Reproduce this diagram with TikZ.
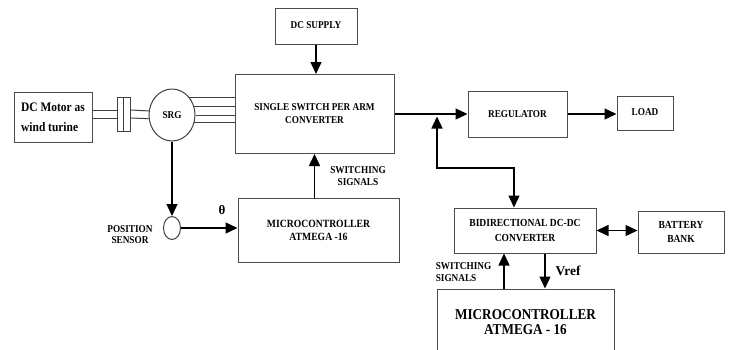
\documentclass[tikz,border=0pt]{standalone}
\usepackage{fontspec}
\setmainfont{Liberation Serif}
\newfontfamily\cond[FakeStretch=0.88]{Liberation Serif}
\usetikzlibrary{arrows.meta,shapes.geometric}
\begin{document}
\begin{tikzpicture}[x=1pt,y=-1pt,
  box/.style={draw=black!70,line width=1pt,rectangle,inner sep=0pt,align=center,
    font=\cond\bfseries\fontsize{10.5}{13}\selectfont},
  lbl/.style={inner sep=0pt,align=center,font=\cond\bfseries\fontsize{10.5}{12}\selectfont},
  tip/.tip={Triangle[length=12pt,width=11pt]},
  arr/.style={line width=1.4pt,-tip},
  darr/.style={line width=1.4pt,tip-tip},
  ln/.style={line width=1pt,draw=black!75}]
\useasboundingbox (0,0) rectangle (731,349);
% nodes
\node[box,minimum width=78,minimum height=50,font=\cond\bfseries\fontsize{13}{20}\selectfont,align=left] (motor) at (53,117) {DC Motor as\\wind turine};
\node[draw=black!75,line width=1pt,minimum width=13,minimum height=34,inner sep=0pt] (coup) at (123.5,114.5) {};
\node[draw=black!75,line width=1pt,ellipse,minimum width=46,minimum height=52,inner sep=0pt,
  font=\cond\bfseries\fontsize{10.5}{12}\selectfont] (srg) at (172,115) {SRG};
\node[box,minimum width=159,minimum height=79] (conv) at (314.5,114) {SINGLE SWITCH PER ARM\\CONVERTER};
\node[box,minimum width=82,minimum height=36] (dcs) at (316,26) {\raisebox{2.5pt}{DC SUPPLY}};
\node[box,minimum width=161,minimum height=64,font=\cond\bfseries\fontsize{11}{13}\selectfont] (mc1) at (318.5,230) {MICROCONTROLLER\\ATMEGA -16};
\node[draw=black!75,line width=1pt,ellipse,minimum width=17,minimum height=23,inner sep=0pt] (pos) at (172,228) {};
\node[box,minimum width=99,minimum height=46] (reg) at (517.5,114) {REGULATOR};
\node[box,minimum width=56,minimum height=34] (load) at (645,113) {\raisebox{2.5pt}{LOAD}};
\node[box,minimum width=142,minimum height=45,font=\cond\bfseries\fontsize{10.8}{15}\selectfont] (bid) at (525,230.5) {BIDIRECTIONAL DC-DC\\CONVERTER};
\node[box,minimum width=86,minimum height=42,font=\cond\bfseries\fontsize{10.8}{14}\selectfont] (bat) at (681,232) {BATTERY\\BANK};
\node[box,minimum width=177,minimum height=66,font=\cond\bfseries\fontsize{15}{15}\selectfont] (mc2) at (525.5,322) {MICROCONTROLLER\\ATMEGA - 16};
% labels
\node[lbl,font=\cond\bfseries\fontsize{10.5}{11.5}\selectfont] (possl) at (130,234.5) {POSITION\\SENSOR};
\node[lbl] (sw1) at (358,176) {SWITCHING\\SIGNALS};
\node[lbl,align=left] (sw2) at (463.5,272.5) {SWITCHING\\SIGNALS};
\node[inner sep=0pt,font=\bfseries\fontsize{13.5}{14}\selectfont] (vref) at (568,271) {Vref};
\node[inner sep=0pt,font=\bfseries\fontsize{13}{14}\selectfont] (theta) at (222,210) {θ};
% mechanical links
\draw[ln] ([yshift=7]motor.east) -- ([yshift=7]motor.east -| coup.west);
\draw[ln] ([yshift=-1]motor.east) -- ([yshift=-1]motor.east -| coup.west);
\draw[ln] (coup.north) -- (coup.south);
\draw[ln] ([yshift=4.5]coup.east) -- (srg.170);
\draw[ln] ([yshift=-3.5]coup.east) -- (srg.189);
\foreach \a in {46,20,0,-19}{
  \draw[ln] (srg.\a) -- (srg.\a -| conv.west);
}
% signal arrows
\draw[arr] (srg.south) -- (pos.north);
\draw[arr] (pos.east) -- (pos.east -| mc1.west);
\draw[arr] (dcs.south) -- (dcs.south |- conv.north);
\draw[arr] (mc1.north -| conv.south) -- (conv.south);
\draw[arr] (conv.east) -- (reg.west);
\draw[arr] (reg.east) -- (reg.east -| load.west);
\coordinate (J) at (437,116.5);
\coordinate (K) at (437,168);
\coordinate (L) at (514,168);
\draw[darr] (J) -- (K) -- (L) -- (L |- bid.north);
\draw[darr] (bid.east) -- (bid.east -| bat.west);
\coordinate (S1) at (504,0);
\draw[arr] (S1 |- mc2.north) -- (S1 |- bid.south);
\coordinate (V1) at (545,0);
\draw[arr] (V1 |- bid.south) -- (V1 |- mc2.north);
\end{tikzpicture}
\end{document}
